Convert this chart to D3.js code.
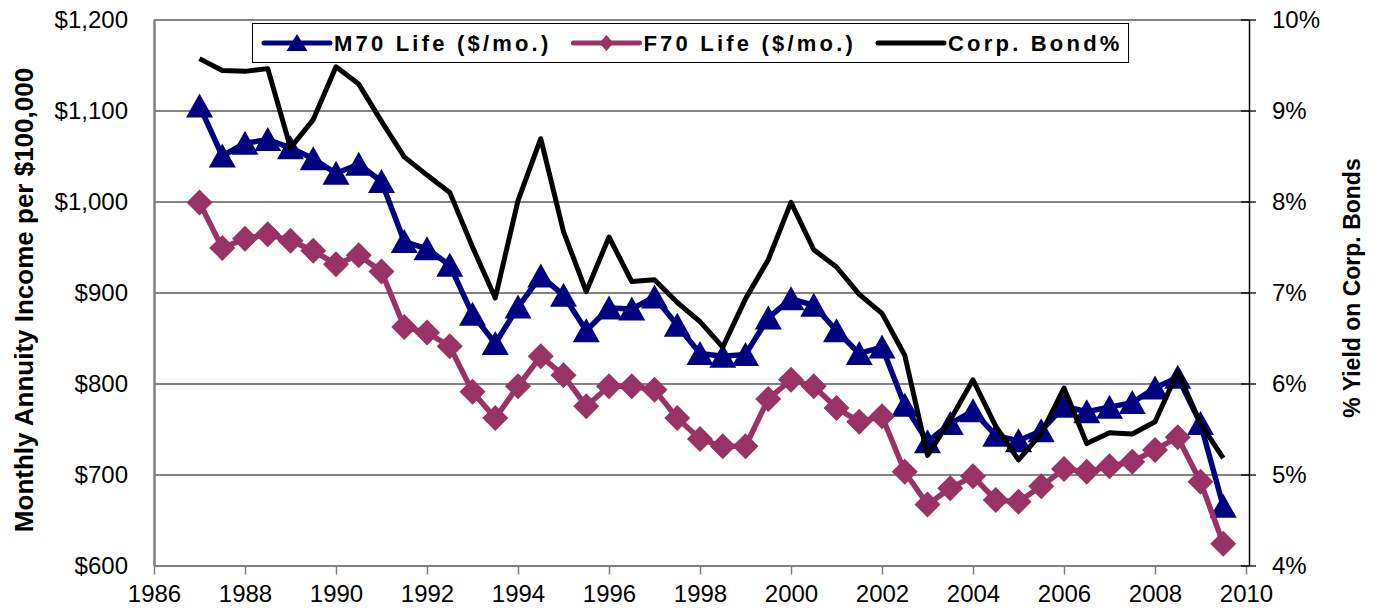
<!DOCTYPE html>
<html>
<head>
<meta charset="utf-8">
<script src="https://cdn.jsdelivr.net/npm/d3@7"></script>
<style>
  body { margin: 0; background: #fff; }
  text { font-family: "Liberation Sans", Arial, sans-serif; fill: #000; }
  .tick text { font-size: 24px; }
  .axisTitle { font-weight: bold; }
  .legendText { font-size: 22px; font-weight: bold; letter-spacing: 3.2px; }
</style>
</head>
<body>
<div class="chart"></div>
<script>
var svgWidth = 1374;
var svgHeight = 611;

var margin = { top: 19.5, right: 128, bottom: 45.5, left: 154 };
var width = svgWidth - margin.left - margin.right;
var height = svgHeight - margin.top - margin.bottom;

// semiannual observations
var years = [1987, 1987.5, 1988, 1988.5, 1989, 1989.5, 1990, 1990.5, 1991, 1991.5,
  1992, 1992.5, 1993, 1993.5, 1994, 1994.5, 1995, 1995.5, 1996, 1996.5,
  1997, 1997.5, 1998, 1998.5, 1999, 1999.5, 2000, 2000.5, 2001, 2001.5,
  2002, 2002.5, 2003, 2003.5, 2004, 2004.5, 2005, 2005.5, 2006, 2006.5,
  2007, 2007.5, 2008, 2008.5, 2009, 2009.5];

var m70 = [1105, 1050, 1064, 1068, 1059, 1047, 1031, 1041, 1022, 956,
  948, 930, 876, 844, 884, 918, 897, 858, 883, 882,
  895, 864, 833, 830, 832, 872, 893, 886, 858, 833,
  840, 776, 736, 756, 770, 743, 737, 748, 775, 769,
  774, 779, 795, 807, 756, 665];

var f70 = [999, 949, 959, 964, 957, 946, 931, 941, 923, 862,
  856, 841, 791, 762, 797, 830, 809, 775, 797, 797,
  793, 762, 739, 731, 731, 783, 804, 797, 773, 758,
  764, 703, 667, 685, 698, 672, 670, 687, 706, 703,
  709, 714, 727, 741, 692, 624];

var bond = [9.57, 9.44, 9.43, 9.46, 8.59, 8.90, 9.48, 9.29, 8.88, 8.49,
  8.29, 8.10, 7.50, 6.94, 8.01, 8.69, 7.67, 7.01, 7.61, 7.12,
  7.14, 6.89, 6.68, 6.40, 6.93, 7.36, 7.99, 7.47, 7.28, 6.98,
  6.77, 6.31, 5.21, 5.60, 6.04, 5.53, 5.16, 5.45, 5.95, 5.34,
  5.46, 5.445, 5.58, 6.13, 5.56, 5.18];

var xTicks = [1986, 1988, 1990, 1992, 1994, 1996, 1998, 2000, 2002, 2004, 2006, 2008, 2010];
var leftTicks = [600, 700, 800, 900, 1000, 1100, 1200];
var rightTicks = [4, 5, 6, 7, 8, 9, 10];
var seriesNames = ["M70 Life ($/mo.)", "F70 Life ($/mo.)", "Corp. Bond%"];

var svg = d3.select(".chart")
  .append("svg")
  .attr("width", svgWidth)
  .attr("height", svgHeight);

var chart = svg.append("g")
  .attr("transform", "translate(" + margin.left + "," + margin.top + ")");

var xScale = d3.scaleLinear().domain([1986, 2010]).range([0, 1092]);
var yLeft = d3.scaleLinear().domain([600, 1200]).range([height, 0]);
var yRight = d3.scaleLinear().domain([4, 10]).range([height, 0]);

// gridlines
chart.append("g")
  .selectAll("line")
  .data(leftTicks)
  .enter().append("line")
  .attr("x1", 0)
  .attr("x2", 1095)
  .attr("y1", function(d) { return Math.round(yLeft(d)) + 0.5; })
  .attr("y2", function(d) { return Math.round(yLeft(d)) + 0.5; })
  .style("stroke", "#5a5a5a")
  .style("stroke-width", 1.3);

// x axis
var bottomAxis = d3.axisBottom(xScale)
  .tickValues(xTicks)
  .tickFormat(d3.format("d"))
  .tickSizeInner(9)
  .tickSizeOuter(0)
  .tickPadding(10);

var gx = chart.append("g")
  .attr("transform", "translate(0," + height + ")")
  .call(bottomAxis);
gx.select(".domain").style("stroke", "#808080").style("stroke-width", 2);
gx.selectAll(".tick line").style("stroke", "#808080").style("stroke-width", 1.5);

// left axis
var leftAxis = d3.axisLeft(yLeft)
  .tickValues(leftTicks)
  .tickFormat(function(d) { return "$" + d3.format(",")(d); })
  .tickSize(0)
  .tickPadding(26);

var gl = chart.append("g").call(leftAxis);
gl.select(".domain").style("stroke", "#808080").style("stroke-width", 2.5);

// right axis
var rightAxis = d3.axisRight(yRight)
  .tickValues(rightTicks)
  .tickFormat(function(d) { return d + "%"; })
  .tickSizeInner(7)
  .tickSizeOuter(0)
  .tickPadding(16);

var gr = chart.append("g")
  .attr("transform", "translate(1095,0)")
  .call(rightAxis);
gr.select(".domain").style("stroke", "#000").style("stroke-width", 1.5);
gr.selectAll(".tick line").attr("x1", -8).style("stroke", "#000").style("stroke-width", 1.3);

// series lines
var lineLeft = function(vals) {
  return d3.line()
    .x(function(d, i) { return xScale(years[i]); })
    .y(function(d) { return yLeft(d); })(vals);
};

var triPath = "M0,-12.5L13.5,11.5L-13.5,11.5Z";
var diaPath = "M0,-13L13,0L0,13L-13,0Z";

chart.append("path")
  .attr("d", lineLeft(m70))
  .style("fill", "none")
  .style("stroke", "#000080")
  .style("stroke-width", 5.5)
  .style("stroke-linejoin", "round");

chart.append("g")
  .selectAll("path")
  .data(m70)
  .enter().append("path")
  .attr("d", triPath)
  .attr("transform", function(d, i) { return "translate(" + xScale(years[i]) + "," + yLeft(d) + ")"; })
  .style("fill", "#000080");

chart.append("path")
  .attr("d", lineLeft(f70))
  .style("fill", "none")
  .style("stroke", "#993366")
  .style("stroke-width", 5.5)
  .style("stroke-linejoin", "round");

chart.append("g")
  .selectAll("path")
  .data(f70)
  .enter().append("path")
  .attr("d", diaPath)
  .attr("transform", function(d, i) { return "translate(" + xScale(years[i]) + "," + yLeft(d) + ")"; })
  .style("fill", "#993366");

chart.append("path")
  .attr("d", d3.line()
    .x(function(d, i) { return xScale(years[i]); })
    .y(function(d) { return yRight(d); })(bond))
  .style("fill", "none")
  .style("stroke", "#000")
  .style("stroke-width", 5)
  .style("stroke-linejoin", "round");

// axis titles
svg.append("text")
  .attr("class", "axisTitle")
  .attr("transform", "translate(33,300) rotate(-90)")
  .attr("text-anchor", "middle")
  .style("font-size", "26px")
  .text("Monthly Annuity Income per $100,000");

svg.append("text")
  .attr("class", "axisTitle")
  .attr("transform", "translate(1360,288) rotate(-90)")
  .attr("text-anchor", "middle")
  .style("font-size", "23px")
  .text("% Yield on Corp. Bonds");

// legend
var legend = svg.append("g");
var legendBox = legend.append("rect")
  .attr("x", 252.5)
  .attr("y", 23.5)
  .attr("height", 39)
  .style("fill", "#fff")
  .style("stroke", "#000")
  .style("stroke-width", 1);

var colors = ["#000080", "#993366", "#000"];
var lx = 264;
seriesNames.forEach(function(name, i) {
  var item = legend.append("g").attr("transform", "translate(" + lx + ",43)");
  item.append("line")
    .attr("x1", 0).attr("x2", 66)
    .style("stroke", colors[i])
    .style("stroke-width", 5)
    .style("stroke-linecap", "round");
  if (i === 0) {
    item.append("path").attr("d", "M0,-9L10.5,8L-10.5,8Z")
      .attr("transform", "translate(33,0)").style("fill", colors[i]);
  } else if (i === 1) {
    item.append("path").attr("d", "M0,-8L7,0L0,8L-7,0Z")
      .attr("transform", "translate(33,0)").style("fill", colors[i]);
  }
  var t = item.append("text")
    .attr("class", "legendText")
    .attr("x", 70)
    .attr("y", 8)
    .text(name);
  lx += 70 + t.node().getComputedTextLength() + 22;
});
legendBox.attr("width", lx - 22 + 6 - 252.5);
</script>
</body>
</html>
